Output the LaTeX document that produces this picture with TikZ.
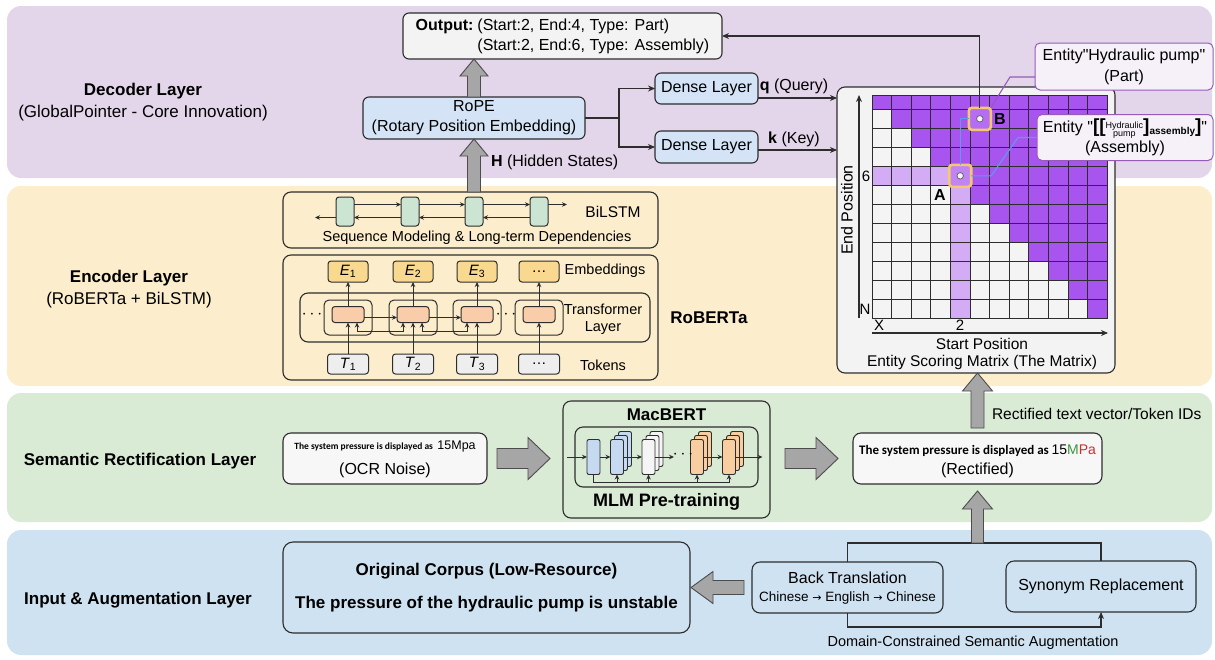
\documentclass[tikz,border=0pt]{standalone}
\usepackage{fontspec}
\setmainfont{Liberation Sans}
\newfontfamily\carlito{Carlito}
\newfontfamily\dejavu{DejaVu Sans}
\usetikzlibrary{arrows.meta,calc}

\definecolor{decbg}{RGB}{228,214,234}
\definecolor{encbg}{RGB}{252,237,204}
\definecolor{sembg}{RGB}{217,234,213}
\definecolor{inbg}{RGB}{207,226,241}
\definecolor{boxgray}{RGB}{243,243,243}
\definecolor{ropeblue}{RGB}{212,228,246}
\definecolor{lstmgreen}{RGB}{204,228,210}
\definecolor{embyel}{RGB}{248,217,143}
\definecolor{trorange}{RGB}{249,205,170}
\definecolor{tokgray}{RGB}{238,238,238}
\definecolor{cellp}{RGB}{168,85,240}
\definecolor{cellh}{RGB}{212,172,245}
\definecolor{cellw}{RGB}{244,244,244}
\definecolor{glowy}{RGB}{246,200,110}
\definecolor{calloutline}{RGB}{150,90,185}
\definecolor{calloutfill}{RGB}{246,241,248}
\definecolor{bluel}{RGB}{95,155,235}
\definecolor{arrowgray}{RGB}{166,166,166}
\definecolor{macblue}{RGB}{197,218,240}
\definecolor{macorange}{RGB}{248,205,160}
\definecolor{okgreen}{RGB}{60,150,60}
\definecolor{errred}{RGB}{205,45,45}
\definecolor{linedark}{RGB}{45,45,45}

\newcommand{\qd}{\textquotedbl}

\tikzset{
  pics/barrow/.style n args={4}{code={
    \path[draw=black!70, fill=arrowgray, line width=0.9pt, line join=miter]
      (0,-#2) -- ({#1-#4},-#2) -- ({#1-#4},-#3) -- (#1,0) -- ({#1-#4},#3) -- ({#1-#4},#2) -- (0,#2) -- cycle;
  }}
}

\begin{document}
\begin{tikzpicture}[x=1pt,y=-1pt,
  font=\fontsize{16}{20}\selectfont,
  every node/.style={inner sep=0pt, outer sep=0pt, align=center},
  box/.style={draw=linedark, line width=1.1pt, rounded corners=6pt},
  conn/.style={draw=linedark, line width=1.1pt, -{Stealth[length=7pt,width=6pt]}},
  sconn/.style={draw=linedark, line width=1pt, -{Stealth[length=5pt,width=4.5pt]}},
  dconn/.style={draw=linedark, line width=1pt, {Stealth[length=5pt,width=4.5pt]}-{Stealth[length=5pt,width=4.5pt]}},
  plain/.style={draw=linedark, line width=1.1pt},
  layerlbl/.style={font=\fontsize{17}{22}\selectfont},
  smalltxt/.style={font=\fontsize{14.5}{17}\selectfont},
  lstm/.style={draw=linedark, line width=1pt, fill=lstmgreen, rounded corners=3pt, minimum width=18pt, minimum height=29pt},
  emb/.style={draw=linedark, line width=1pt, fill=embyel, rounded corners=3pt, minimum width=40pt, minimum height=21pt, font=\fontsize{15}{17}\selectfont},
  tok/.style={draw=linedark, line width=1pt, fill=tokgray, rounded corners=3pt, minimum width=41pt, minimum height=20pt, font=\fontsize{15}{17}\selectfont},
  innerbox/.style={draw=linedark, line width=1pt, rounded corners=5pt, minimum width=48pt, minimum height=35pt},
  orangecell/.style={draw=linedark, line width=1pt, fill=trorange, rounded corners=3pt, minimum width=32pt, minimum height=16pt},
  blk/.style={draw=linedark, line width=0.9pt, rounded corners=2pt, minimum width=13pt, minimum height=35pt},
  glow/.style={draw=glowy, line width=2.6pt, rounded corners=3pt, minimum size=22pt},
  dotc/.style={circle, draw=black!60, fill=white!85!cellh, line width=0.8pt, minimum size=6.5pt},
  callout/.style={draw=calloutline, fill=calloutfill, line width=1pt, rounded corners=5pt, font=\fontsize{16}{21}\selectfont},
]
\useasboundingbox (0,0) rectangle (1215,659);

% ---------------- bands ----------------
\fill[decbg, rounded corners=14pt] (7,6) rectangle (1212,178);
\fill[encbg, rounded corners=14pt] (7,186) rectangle (1212,386);
\fill[sembg, rounded corners=14pt] (7,393) rectangle (1212,522);
\fill[inbg, rounded corners=14pt] (7,530) rectangle (1212,655);

% ---------------- layer labels ----------------
\node[layerlbl] (declbl) at (143,102) {\textbf{Decoder Layer}\\(GlobalPointer - Core Innovation)};
\node[layerlbl] (enclbl) at (129,289) {\textbf{Encoder Layer}\\(RoBERTa + BiLSTM)};
\node[layerlbl] (semlbl) at (140,461) {\textbf{Semantic Rectification Layer}};
\node[layerlbl] (inlbl) at (138,600) {\textbf{Input \& Augmentation Layer}};

% ---------------- decoder ----------------
\node[box, fill=boxgray, minimum width=319pt, minimum height=46pt] (out) at (562.5,36)
  {\begin{tabular}{@{}l@{\hspace{4pt}}l@{}}\textbf{Output:} & (Start:2, End:4, Type: Part)\\ & (Start:2, End:6, Type: Assembly)\end{tabular}};
\node[box, fill=ropeblue, minimum width=222pt, minimum height=42pt] (rope) at (474,118) {RoPE\\(Rotary Position Embedding)};
\node[box, fill=ropeblue, minimum width=103pt, minimum height=31pt] (d1) at (706.5,88.5) {Dense Layer};
\node[box, fill=ropeblue, minimum width=103pt, minimum height=32pt] (d2) at (706.5,147) {Dense Layer};
\coordinate (jn) at (619,118);
\draw[plain] (rope.east) -- (jn);
\draw[conn] (jn) |- (d1.west);
\draw[conn] (jn) |- (d2.west);

\pic[rotate=90] at (rope.north) {barrow={38}{6.5}{14}{17}};

% matrix box
\node[draw=linedark, line width=1.1pt, rounded corners=8pt, fill=boxgray, minimum width=278pt, minimum height=286pt] (mat) at (976,230) {};
\coordinate (qs) at ($(d1.east)+(0,9.5)$);
\coordinate (ks) at ($(d2.east)+(0,3)$);
\draw[conn] (qs) -- (qs -| mat.west);
\draw[conn] (ks) -- (ks -| mat.west);
\node (qlbl) at (794,86) {\textbf{q} (Query)};
\node (klbl) at (794,139) {\textbf{k} (Key)};

% grid
\foreach \r in {0,...,11}{
  \foreach \c in {0,...,11}{
    \pgfmathsetmacro{\yt}{(\r==0) ? 95 : 109.3+(\r-1)*19}
    \pgfmathsetmacro{\yb}{109.3+\r*19}
    \pgfmathsetmacro{\xl}{872+\c*19.6}
    \pgfmathsetmacro{\xr}{872+(\c+1)*19.6}
    \pgfmathtruncatemacro{\kind}{(\c>=\r) ? 2 : ((((\r==4)&&(\c<4))||((\c==4)&&(\r>4))) ? 1 : 0)}
    \ifcase\kind\def\cf{cellw}\or\def\cf{cellh}\or\def\cf{cellp}\fi
    \filldraw[fill=\cf, draw=linedark, line width=0.9pt] (\xl,\yt) rectangle (\xr,\yb);
  }
}

% axes
\coordinate (yax0) at (859,318);
\coordinate (yax1) at (859,95);
\draw[conn] (yax0) -- (yax1);
\coordinate (xax0) at (872,333);
\coordinate (xax1) at (1108,333);
\draw[conn] (xax0) -- (xax1);
\node[rotate=90] (endpos) at (847,210) {End Position};
\node[font=\fontsize{15}{17}\selectfont] (six) at (866,176) {6};
\node[font=\fontsize{15}{17}\selectfont] (nn) at (865,309) {N};
\node[font=\fontsize{15}{17}\selectfont] (xl) at (879,325) {X};
\node[font=\fontsize{15}{17}\selectfont] (twol) at (960,325) {2};
\node[font=\fontsize{15.5}{18}\selectfont] (startpos) at (982,344) {Start Position};
\node[font=\fontsize{15.5}{18}\selectfont] (esm) at (982,362) {Entity Scoring Matrix (The Matrix)};

% highlighted cells
\node[glow, fill=cellp!85!white] (B) at (979.8,118.8) {};
\node[dotc] (Bdot) at (B) {};
\node[glow, fill=cellh!55!cellp] (A) at (960.2,175.8) {};
\node[dotc] (Adot) at (A) {};
\node[font=\bfseries\fontsize{16}{18}\selectfont] (Blbl) at (1000,119) {B};
\node[font=\bfseries\fontsize{16}{18}\selectfont] (Albl) at (940,195) {A};

% callouts
\node[callout, minimum width=178pt, minimum height=47pt] (c1) at (1124,66.5) {Entity\qd Hydraulic pump\qd\\(Part)};
\node[callout, minimum width=176pt, minimum height=46pt] (c2) at (1125,137.5)
  {Entity \qd{\bfseries\fontsize{19}{19}\selectfont[[}{\fontsize{9}{9}\selectfont\begin{tabular}{@{}c@{}}Hydraulic\\[-1pt]pump\end{tabular}}{\bfseries\fontsize{19}{19}\selectfont]}\raisebox{-1.5pt}{\bfseries\fontsize{10}{10}\selectfont assembly}{\bfseries\fontsize{19}{19}\selectfont]}\qd\\[-1pt](Assembly)};

\coordinate (c1in) at ($(c1.south west)+(0,-13)$);
\draw[draw=calloutline, line width=1.1pt] (B.north east) -- (1010,77) -- (c1in);
\draw[draw=bluel, line width=1.1pt] (B.west) -| (A.north);
\draw[draw=bluel, line width=1.1pt] (A.east) -- ++(20,0) -- ($(c2.west)+(-19,0)$) -- (c2.west);
\draw[conn] (B.north) |- (out.east);

% ---------------- encoder ----------------
\node[box, rounded corners=8pt, minimum width=375pt, minimum height=56pt] (bil) at (470.5,220) {};
\pic[rotate=90] at (rope.south |- bil.north) {barrow={53}{6.5}{14}{17}};
\node[anchor=west] (hlbl) at (491,162) {\textbf{H} (Hidden States)};

\node[lstm] (l1) at (345,211.5) {};
\node[lstm] (l2) at (410,211.5) {};
\node[lstm] (l3) at (474,211.5) {};
\node[lstm] (l4) at (539,211.5) {};
\foreach \i/\j in {1/2,2/3,3/4}{
  \draw[sconn] ($(l\i.east)+(0,-7)$) -- ($(l\j.west)+(0,-7)$);
  \draw[sconn] ($(l\j.west)+(0,6)$) -- ($(l\i.east)+(0,6)$);
}
\draw[sconn] ($(l4.east)+(0,-7)$) -- ++(19,0);
\draw[sconn] ($(l1.west)+(0,6)$) -- ++(-21,0);
\node[font=\fontsize{15.5}{18}\selectfont] (bilt) at (613,212) {BiLSTM};
\node[smalltxt] (seqt) at (477,238) {Sequence Modeling \& Long-term Dependencies};

\node[box, rounded corners=8pt, minimum width=375pt, minimum height=125pt] (rob) at (470.5,317.5) {};
\node[box, rounded corners=8pt, minimum width=350pt, minimum height=49pt] (tl) at (475,317.5) {};

\node[emb] (e1) at (348,271.5) {\textit{E}\textsubscript{1}};
\node[emb] (e2) at (413,271.5) {\textit{E}\textsubscript{2}};
\node[emb] (e3) at (477,271.5) {\textit{E}\textsubscript{3}};
\node[emb] (e4) at (539,271.5) {\dots};
\node[tok] (t1) at (348,364) {\textit{T}\textsubscript{1}};
\node[tok] (t2) at (413,364) {\textit{T}\textsubscript{2}};
\node[tok] (t3) at (477,364) {\textit{T}\textsubscript{3}};
\node[tok] (t4) at (539,364) {\dots};
\foreach \i/\x in {1/348,2/413,3/477,4/539}{
  \node[innerbox] (ib\i) at (\x,317.5) {};
  \node[orangecell] (oc\i) at (\x,314.5) {};
}
\foreach \i in {1,...,4}{
  \draw[sconn] (oc\i.north) -- (e\i.south);
  \draw[sconn] (t\i.north) -- (oc\i.south);
}
\draw[sconn] ($(oc1.east)+(0,3)$) -- ($(oc2.west)+(0,3)$);
\draw[sconn] ($(oc2.east)+(0,3)$) -- ($(oc3.west)+(0,3)$);
\draw[dconn] ($(oc1.south)+(9,0)$) -- ++(0,9) -| ($(oc2.south)+(-10,0)$);
\draw[dconn] ($(oc2.south)+(9,0)$) -- ++(0,9) -| ($(oc3.south)+(-10,0)$);
\node (tdots1) at (312,315) {$\cdots$};
\node (tdots2) at (506,315) {$\cdots$};

\node[smalltxt] (embt) at (605,271) {Embeddings};
\node[smalltxt] (trt) at (603,319.5) {Transformer\\Layer};
\node[smalltxt] (tokt) at (603,365) {Tokens};
\node[font=\bfseries\fontsize{17}{20}\selectfont] (robt) at (709,318) {RoBERTa};

% ---------------- semantic rectification ----------------
\node[box, rounded corners=8pt, fill=white!97!black, minimum width=204pt, minimum height=51pt] (ocr) at (385,458.5) {};
\node (ocr1) at (385,446) {{\carlito\bfseries\fontsize{9.5}{11}\selectfont The system pressure is displayed as} {\fontsize{12.5}{14}\selectfont 15Mpa}};
\node (ocr2) at (385,470) {(OCR Noise)};

\node[box, rounded corners=8pt, minimum width=207pt, minimum height=117pt] (mac) at (666.5,459.5) {};
\node[font=\bfseries\fontsize{17}{20}\selectfont] (mact) at (666.5,415) {MacBERT};
\node[font=\bfseries\fontsize{18}{20}\selectfont] (mlmt) at (666.5,502) {MLM Pre-training};
\node[box, rounded corners=8pt, minimum width=183pt, minimum height=60pt] (macin) at (666.5,457) {};

% stacked blocks (back layers first)
\foreach \x/\col in {617/macblue,648.5/white!96!black,697/macorange,729/macorange}{
  \node[blk, fill=\col] at (\x+8,449) {};
  \node[blk, fill=\col] at (\x+4,453) {};
}
\node[blk, fill=macblue] (mb1) at (593.5,457) {};
\node[blk, fill=macblue] (mb2) at (617,457) {};
\node[blk, fill=white!96!black] (mb3) at (648.5,457) {};
\node[blk, fill=macorange] (mb4) at (697,457) {};
\node[blk, fill=macorange] (mb5) at (729,457) {};
\coordinate (mstart) at ($(mb1.west -| mac.west)+(4,0)$);
\draw[sconn] (mstart) -- (mb1.west);
\draw[sconn] (mb1.east) -- (mb2.west);
\draw[sconn] (mb2.east) -- (mb3.west);
\draw[sconn] (mb3.east) -- ++(19,0);
\node (mdots) at (683,455) {$\cdots$};
\draw[sconn] (mb4.east) -- (mb5.west);
\draw[sconn] (mb5.east) -- ++(27,0);
\coordinate (fb) at ($(mb1.south)+(0,8)$);
\draw[draw=linedark, line width=1pt] (mb1.south) -- (fb) -- (fb -| mb5.south);
\foreach \i in {2,...,5}{
  \draw[sconn] (fb -| mb\i.south) -- (mb\i.south);
}

\node[box, rounded corners=8pt, fill=white!97!black, minimum width=249pt, minimum height=51pt] (rect) at (977.5,458.5) {};
\node (rect1) at (977.5,451) {{\carlito\bfseries\fontsize{13}{15}\selectfont The system pressure is displayed as}\,{\fontsize{14}{16}\selectfont 15\textcolor{okgreen}{M}\textcolor{errred}{Pa}}};
\node (rect2) at (977.5,470) {(Rectified)};

\pic at ($(ocr.east)+(10,0)$) {barrow={53}{10}{21}{22}};
\pic at ($(mac.east)+(15,-1)$) {barrow={53}{10}{21}{22}};
\pic[rotate=90] at ($(rect.north)+(0,-5)$) {barrow={55}{6.5}{15}{18}};
\node[anchor=west, font=\fontsize{15.5}{18}\selectfont] (rtv) at (992,414) {Rectified text vector/Token IDs};

% ---------------- input & augmentation ----------------
\node[box, rounded corners=10pt, minimum width=407pt, minimum height=91pt] (corpus) at (486.5,587.5) {};
\node[font=\bfseries\fontsize{17}{20}\selectfont] (corp1) at (486.5,571) {Original Corpus (Low-Resource)};
\node[font=\bfseries\fontsize{17}{20}\selectfont] (corp2) at (486.5,604) {The pressure of the hydraulic pump is unstable};

\node[box, rounded corners=8pt, minimum width=191pt, minimum height=51pt] (bt) at (847.5,587.5) {};
\node (bt1) at (847.5,578) {Back Translation};
\node[font=\fontsize{13.5}{16}\selectfont] (bt2) at (847.5,598) {Chinese {\dejavu\fontsize{11}{13}\selectfont →} English {\dejavu\fontsize{11}{13}\selectfont →} Chinese};
\node[box, rounded corners=8pt, minimum width=190pt, minimum height=51pt] (syn) at (1101,586.5) {Synonym Replacement};

\draw[plain] (bt.north) -- ++(0,-19) -| (syn.north);
\draw[conn] (bt.south) -- ++(0,14) -| (syn.south);
\pic[rotate=90] at ($(rect.south)+(0,59)$) {barrow={52}{6}{15}{18}};
\pic[rotate=180] at ($(bt.west)+(-8,0)$) {barrow={53}{7}{16}{22}};
\node[smalltxt] (dcsa) at (973,643) {Domain-Constrained Semantic Augmentation};

\end{tikzpicture}
\end{document}
